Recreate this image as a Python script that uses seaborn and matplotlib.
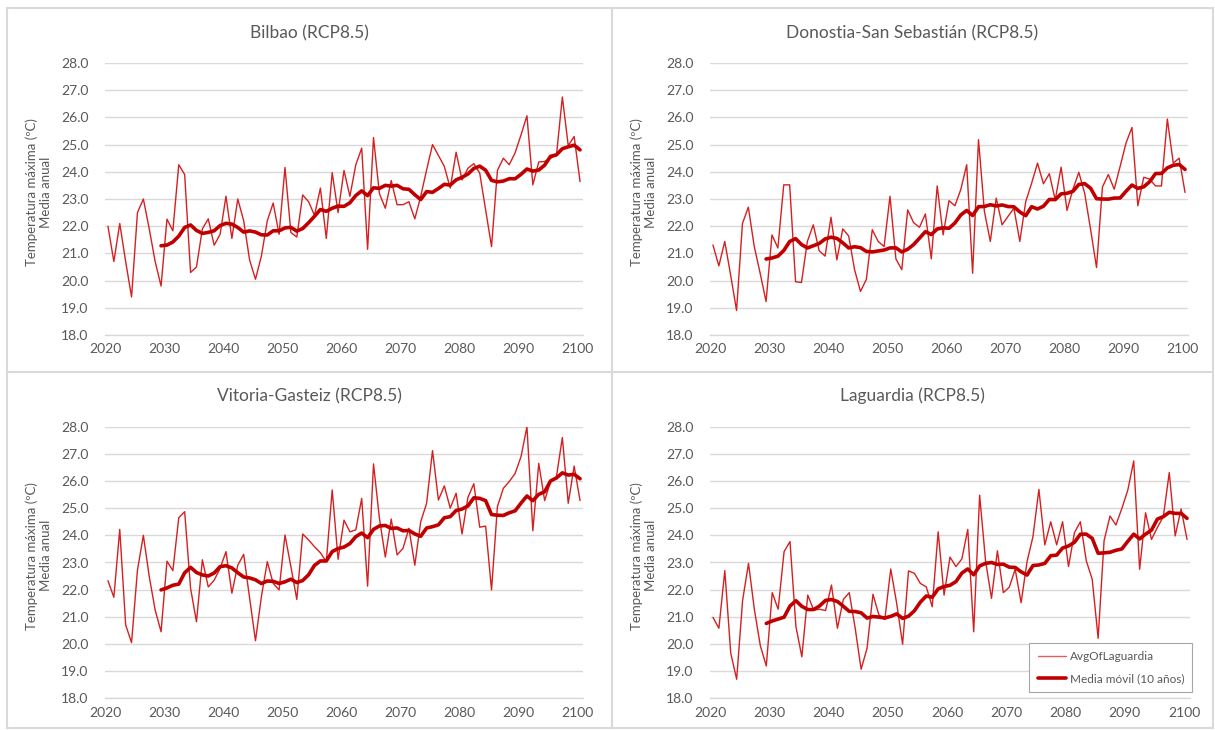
import numpy as np
import pandas as pd
import seaborn as sns
import matplotlib.pyplot as plt
from matplotlib.lines import Line2D

# Datos anuales (2020-2100)
years = list(range(2020, 2101))

bilbao = [22.0, 20.7, 22.1, 20.7, 19.4, 22.5, 23.0, 21.9, 20.7, 19.8,
          22.26, 21.83, 24.26, 23.9, 20.3, 20.5, 21.9, 22.27, 21.3, 21.7,
          23.1, 21.55, 23.0, 22.2, 20.76, 20.05, 20.9, 22.2, 22.85, 21.7,
          24.16, 21.77, 21.6, 23.15, 22.9, 22.4, 23.4, 21.55, 23.97, 22.5,
          24.05, 23.1, 24.26, 24.87, 21.15, 25.26, 23.2, 22.66, 23.68, 22.79,
          22.79, 22.9, 22.27, 23.1, 24.07, 25.0, 24.6, 24.2, 23.4, 24.72,
          23.7, 24.13, 24.3, 23.95, 22.6, 21.25, 24.05, 24.5, 24.26, 24.7,
          25.36, 26.06, 23.52, 24.36, 24.38, 24.5, 24.6, 26.75, 24.96, 25.3,
          23.64]

donostia = [21.31, 20.54, 21.44, 20.2, 18.9, 22.1, 22.7, 21.25, 20.27, 19.23,
            21.68, 21.2, 23.52, 23.52, 19.96, 19.93, 21.44, 22.05, 21.1, 20.9,
            22.33, 20.76, 21.9, 21.64, 20.4, 19.6, 20.05, 21.87, 21.44, 21.25,
            23.1, 20.8, 20.4, 22.6, 22.13, 21.96, 22.45, 20.8, 23.48, 21.68,
            22.94, 22.75, 23.35, 24.26, 20.27, 25.18, 22.54, 21.44, 23.03, 22.05,
            22.36, 22.66, 21.44, 22.9, 23.58, 24.32, 23.56, 23.93, 22.97, 24.17,
            22.58, 23.36, 23.98, 23.2, 21.87, 20.48, 23.44, 23.9, 23.36, 24.2,
            25.06, 25.63, 22.75, 23.8, 23.73, 23.48, 23.48, 25.94, 24.32, 24.5,
            23.24]

vitoria = [22.33, 21.72, 24.22, 20.7, 20.05, 22.72, 24.0, 22.48, 21.25, 20.45,
           23.05, 22.7, 24.65, 24.87, 22.05, 20.82, 23.1, 22.1, 22.35, 22.78,
           23.4, 21.87, 22.9, 23.3, 21.7, 20.12, 21.74, 23.03, 22.23, 21.99,
           24.01, 22.85, 21.64, 24.05, 23.83, 23.58, 23.36, 23.03, 25.67, 23.12,
           24.56, 24.13, 24.2, 25.36, 22.13, 26.63, 24.63, 23.2, 24.6, 23.28,
           23.52, 24.26, 22.9, 24.5, 25.18, 27.12, 25.3, 25.82, 25.0, 25.55,
           24.05, 25.4, 25.9, 24.3, 24.34, 21.99, 25.06, 25.73, 25.98, 26.28,
           26.9, 28.0, 24.17, 26.65, 25.28, 25.98, 26.16, 27.6, 25.18, 26.55,
           25.28]

laguardia = [20.98, 20.58, 22.7, 19.66, 18.7, 21.6, 22.97, 21.25, 19.93, 19.19,
             21.89, 21.28, 23.4, 23.77, 20.64, 19.53, 21.8, 21.25, 21.28, 21.23,
             22.17, 20.58, 21.64, 21.89, 20.58, 19.07, 19.84, 21.83, 21.07, 20.9,
             22.76, 21.5, 19.99, 22.69, 22.6, 22.23, 22.1, 21.37, 24.13, 21.8,
             23.2, 22.85, 23.13, 24.22, 20.45, 25.48, 23.06, 21.68, 23.43, 21.89,
             22.09, 22.75, 21.52, 23.03, 23.95, 25.69, 23.65, 24.5, 23.65, 24.5,
             22.85, 24.1, 24.5, 23.06, 22.38, 20.21, 23.8, 24.71, 24.38, 24.99,
             25.66, 26.74, 22.75, 24.83, 23.85, 24.29, 24.69, 26.31, 23.98, 24.97,
             23.85]

titles = ["Bilbao (RCP8.5)", "Donostia-San Sebastián (RCP8.5)",
          "Vitoria-Gasteiz (RCP8.5)", "Laguardia (RCP8.5)"]
series = [bilbao, donostia, vitoria, laguardia]
tick_years = [2020, 2030, 2040, 2050, 2060, 2070, 2080, 2090, 2100]

sns.set_style("white")
plt.rcParams['font.family'] = ['Lato', 'DejaVu Sans']

W, H = 1215, 730
fig = plt.figure(figsize=(W / 100, H / 100), dpi=100)

# cajas de cada grafico (pixeles): left, right, top, bottom
boxes = [(105, 583, 63, 335), (710, 1188, 63, 335),
         (105, 583, 426.7, 698.3), (710, 1190, 426.7, 698.3)]
title_pos = [(309, 33), (912, 33), (309, 396), (912, 396)]

grey = "#595959"
for i, (vals, title) in enumerate(zip(series, titles)):
    l, r, t, b = boxes[i]
    ax = fig.add_axes([l / W, 1 - b / H, (r - l) / W, (b - t) / H])
    df = pd.DataFrame({"year": years, "temp": vals})
    df["mm"] = df["temp"].rolling(10).mean()

    sns.lineplot(data=df, x="year", y="temp", ax=ax, color="#D42020", lw=1.0,
                 label="AvgOfLaguardia")
    sns.lineplot(data=df.dropna(), x="year", y="mm", ax=ax, color="#C00000", lw=2.6,
                 label="Media móvil (10 años)")

    ax.set_xlim(2019.5, 2100.5)
    ax.set_ylim(18, 28)
    ax.set_yticks(np.arange(18, 29, 1))
    ax.set_yticklabels([f"{v:.1f}" for v in np.arange(18, 29, 1)])
    ax.set_xticks([y - 0.5 for y in tick_years])
    ax.set_xticklabels([str(y) for y in tick_years])
    ax.grid(axis="y", color="#d9d9d9", lw=1.0)
    ax.grid(axis="x", visible=False)
    for s in ["top", "right", "left"]:
        ax.spines[s].set_visible(False)
    ax.spines["bottom"].set_color("#d9d9d9")
    ax.spines["bottom"].set_linewidth(1.0)
    ax.tick_params(axis="x", direction="inout", length=6, color="#d9d9d9",
                   labelcolor=grey, labelsize=10, pad=3)
    ax.tick_params(axis="y", length=0, labelcolor=grey, labelsize=10, pad=12)
    ax.set_xlabel("")
    ax.set_ylabel("Temperatura máxima (ºC)\nMedia anual", color=grey, fontsize=9.5,
                  linespacing=1.25)
    ax.yaxis.set_label_coords(-0.11, 0.525)

    if i == 3:
        leg = ax.legend(loc="lower right", bbox_to_anchor=(1.005, 0.022), borderaxespad=0,
                        fancybox=False, framealpha=1, edgecolor="#a6a6a6", fontsize=8.5,
                        handlelength=2.4, handletextpad=0.3, labelspacing=0.9,
                        borderpad=0.7)
        leg.get_frame().set_linewidth(0.8)
        for txt in leg.get_texts():
            txt.set_color(grey)
        leg.get_lines()[0].set_color("#E06060")
    else:
        ax.get_legend().remove()

    fig.text(title_pos[i][0] / W, 1 - title_pos[i][1] / H, title, ha="center",
             va="center", fontsize=12.5, color=grey)

# marcos de los graficos
frame = "#d9d9d9"
for x in [7, 611.5, 1213]:
    fig.add_artist(Line2D([x / W, x / W], [1 - 8 / H, 1 - 728 / H], color=frame, lw=1.5))
for y in [8, 371.5, 728]:
    fig.add_artist(Line2D([7 / W, 1213 / W], [1 - y / H, 1 - y / H], color=frame, lw=1.5))

plt.savefig("out.png", dpi=100)
